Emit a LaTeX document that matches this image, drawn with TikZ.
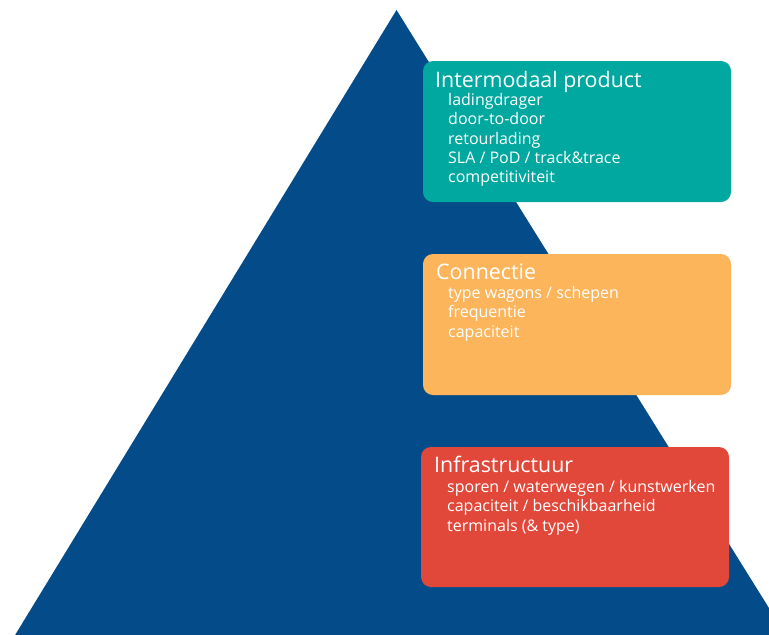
\documentclass[tikz,border=0pt]{standalone}
\usepackage{fontspec}
\setmainfont{Open Sans}
\definecolor{pyrblue}{HTML}{044C89}
\definecolor{boxteal}{HTML}{00A89F}
\definecolor{boxorange}{HTML}{FDB55B}
\definecolor{boxred}{HTML}{E2483A}
\tikzset{
  panel/.style={rounded corners=10pt, inner sep=0pt, draw=none},
  titletext/.style={anchor=base west, inner sep=0pt, text=white, font=\fontsize{21.4}{24}\selectfont},
  itemtext/.style={anchor=base west, inner sep=0pt, text=white, font=\fontsize{16}{19}\selectfont},
}
\begin{document}
\begin{tikzpicture}[x=1pt,y=-1pt]
\useasboundingbox (0,0) rectangle (769,635);
\begin{scope}
\clip (0,0) rectangle (769,635);
\fill[pyrblue] (396.5,10) -- (9,645) -- (792,645) -- cycle;
\end{scope}
% boxes
\path[panel, fill=boxteal] (423,61) rectangle (731,202);
\node[inner sep=0pt, minimum width=308pt, minimum height=141pt] (prod) at (577,131.5) {};
\path[panel, fill=boxorange] (423,254) rectangle (731,395);
\node[inner sep=0pt, minimum width=308pt, minimum height=141pt] (conn) at (577,324.5) {};
\path[panel, fill=boxred] (421,447) rectangle (729,587);
\node[inner sep=0pt, minimum width=308pt, minimum height=140pt] (infra) at (575,517) {};
% box 1
\node[titletext] (t1) at (435,87) {Intermodaal product};
\node[itemtext] (p1) at (448,105.5) {ladingdrager};
\node[itemtext] (p2) at (448,124.8) {door-to-door};
\node[itemtext] (p3) at (448,144.1) {retourlading};
\node[itemtext] (p4) at (448,163.4) {SLA / PoD / track\&trace};
\node[itemtext] (p5) at (448,182.7) {competitiviteit};
% box 2
\node[titletext] (t2) at (436,279) {Connectie};
\node[itemtext] (c1) at (448,298.5) {type wagons / schepen};
\node[itemtext] (c2) at (448,317.8) {frequentie};
\node[itemtext] (c3) at (448,337.1) {capaciteit};
% box 3
\node[titletext] (t3) at (434,472) {Infrastructuur};
\node[itemtext] (i1) at (447,492.5) {sporen / waterwegen / kunstwerken};
\node[itemtext] (i2) at (447,511.8) {capaciteit / beschikbaarheid};
\node[itemtext] (i3) at (447,531.1) {terminals (\& type)};
\end{tikzpicture}
\end{document}
